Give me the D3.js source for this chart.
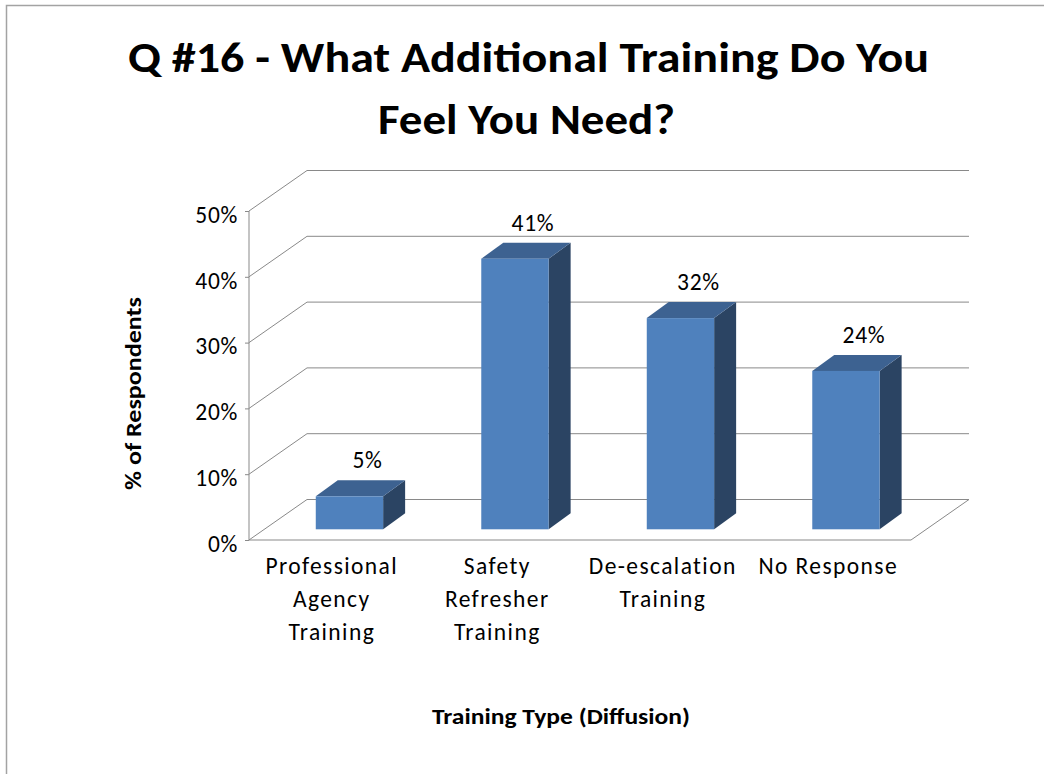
<!DOCTYPE html>
<html>
<head>
<meta charset="utf-8">
<script src="https://cdn.jsdelivr.net/npm/d3@7"></script>
<style>
  html, body { margin: 0; padding: 0; background: #fff; }
  svg { display: block; }
  text { font-family: Carlito, Lato, "Open Sans", sans-serif; fill: #000; }
</style>
</head>
<body>
<svg id="chart" width="1044" height="774"></svg>
<script>
// ---- data ----
const categories = ["Professional Agency Training", "Safety Refresher Training", "De-escalation Training", "No Response"];
const categoryLines = [["Professional", "Agency", "Training"], ["Safety", "Refresher", "Training"], ["De-escalation", "Training"], ["No Response"]];
const values = [5, 41, 32, 24];
const yTicks = [0, 10, 20, 30, 40, 50];
const titleLines = ["Q #16 - What Additional Training Do You", "Feel You Need?"];
const xTitle = "Training Type (Diffusion)";
const yTitle = "% of Respondents";

// ---- layout ----
const svg = d3.select("#chart");
const front = { left: 249, right: 911, bottom: 540, top: 211 };
const depth = { dx: 58, dy: -40.5 };     // wall depth offset
const barDepth = { dx: 22, dy: -16 };
const barShift = 17.7;                    // bar front face sits in from front plane
const barBottom = 529.3;
const gridColor = "#898989";
const labelFont = "23.5px";

const x = d3.scaleBand().domain(categories).range([front.left, front.right]);
const yFront = d3.scaleLinear().domain([0, 50]).range([front.bottom, front.top]);
const yBack = d3.scaleLinear().domain([0, 50]).range([front.bottom + depth.dy, front.top + depth.dy]);
const yBar = d3.scaleLinear().domain([0, 50]).range([barBottom, barBottom - 330]);
const barW = x.bandwidth() * 0.407;

// outer border
svg.append("path")
  .attr("d", "M6.5,774 L6.5,5.5 L1044,5.5")
  .attr("fill", "none").attr("stroke", "#a3a3a3").attr("stroke-width", 1.5);

// gridlines: diagonal side wall + back wall
const grid = svg.append("g").attr("fill", "none").attr("stroke", gridColor).attr("stroke-width", 1);
yTicks.forEach(t => {
  grid.append("path").attr("d",
    `M${front.left},${yFront(t)} L${front.left + depth.dx},${yBack(t)} L${front.right + depth.dx},${yBack(t)}`);
});
// floor front edge + right edge
grid.append("path").attr("d",
  `M${front.left},${yFront(0)} L${front.right},${yFront(0)} L${front.right + depth.dx},${yBack(0)}`);

// y axis
const yAxis = d3.axisLeft(yFront).tickValues(yTicks).tickFormat(d => d + "%").tickSize(4).tickPadding(7);
const ay = svg.append("g").attr("transform", `translate(${front.left},0)`).call(yAxis);
ay.select(".domain").attr("stroke", gridColor).attr("d", `M0,${front.top}V${front.bottom}`);
ay.selectAll(".tick line").attr("stroke", gridColor);
ay.selectAll(".tick text")
  .attr("dy", "0.48em")
  .style("font-family", "Carlito, Lato, 'Open Sans', sans-serif")
  .style("font-size", labelFont)
  .style("letter-spacing", "0.7px")
  .attr("fill", "#000");

// bars
const bars = svg.append("g");
values.forEach((v, i) => {
  const c = categories[i];
  const x0 = x(c) + x.bandwidth() / 2 - barW / 2 + barShift;
  const x1 = x0 + barW;
  const yt = yBar(v), yb = yBar(0);
  const dx = barDepth.dx, dy = barDepth.dy;
  const g = bars.append("g");
  g.append("path").attr("d", `M${x1},${yb} L${x1 + dx},${yb + dy} L${x1 + dx},${yt + dy} L${x1},${yt} Z`)
    .attr("fill", "#2B4463");
  g.append("path").attr("d", `M${x0},${yt} L${x0 + dx},${yt + dy} L${x1 + dx},${yt + dy} L${x1},${yt} Z`)
    .attr("fill", "#3D6291");
  g.append("rect").attr("x", x0).attr("y", yt).attr("width", barW).attr("height", yb - yt)
    .attr("fill", "#4F81BD");
  g.append("text")
    .attr("x", (x0 + x1) / 2 + 18)
    .attr("y", yt - 28)
    .attr("text-anchor", "middle")
    .style("font-size", labelFont)
    .style("letter-spacing", "0.7px")
    .text(v + "%");
});

// category labels
categories.forEach((c, i) => {
  const cx = x(c) + x.bandwidth() / 2;
  const t = svg.append("text")
    .attr("x", cx)
    .attr("y", 574)
    .attr("text-anchor", "middle")
    .style("font-size", labelFont)
    .style("letter-spacing", "1.4px");
  categoryLines[i].forEach((ln, j) => {
    t.append("tspan").attr("x", cx).attr("dy", j === 0 ? 0 : 33).text(ln);
  });
});

// titles
function fit(sel, w) {
  sel.attr("textLength", w).attr("lengthAdjust", "spacingAndGlyphs");
}
const t1 = svg.append("text").attr("x", 528.5).attr("y", 72).attr("text-anchor", "middle")
  .style("font-size", "42px").style("font-weight", "bold").text(titleLines[0]);
fit(t1, 801);
const t2 = svg.append("text").attr("x", 526.5).attr("y", 134).attr("text-anchor", "middle")
  .style("font-size", "42px").style("font-weight", "bold").text(titleLines[1]);
fit(t2, 297);

const xt = svg.append("text").attr("x", 561).attr("y", 724).attr("text-anchor", "middle")
  .style("font-size", "23px").style("font-weight", "bold").text(xTitle);
fit(xt, 258);

const yt = svg.append("text").attr("transform", "translate(141,393.5) rotate(-90)").attr("text-anchor", "middle")
  .style("font-size", "22px").style("font-weight", "bold").text(yTitle);
fit(yt, 193);
</script>
</body>
</html>
